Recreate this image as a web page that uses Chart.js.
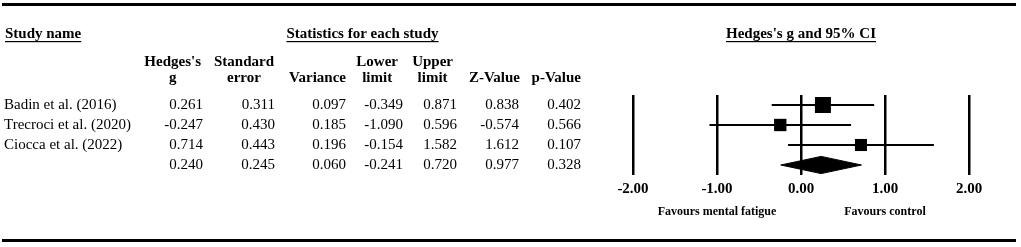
<!DOCTYPE html>
<html>
<head>
<meta charset="utf-8">
<script src="https://cdn.jsdelivr.net/npm/chart.js@4"></script>
<style>
  html, body { margin: 0; padding: 0; background: #fff; }
  #wrap { position: relative; width: 1021px; height: 247px; }
</style>
</head>
<body>
<div id="wrap"><canvas id="forest" width="1021" height="247"></canvas></div>
<script>
const studies = ['Badin et al. (2016)', 'Trecroci et al. (2020)', 'Ciocca et al. (2022)', '']
const hedgesG = [0.261, -0.247, 0.714, 0.240]
const stdErr = [0.311, 0.430, 0.443, 0.245]
const variance = [0.097, 0.185, 0.196, 0.060]
const lowerLimit = [-0.349, -1.090, -0.154, -0.241]
const upperLimit = [0.871, 0.596, 1.582, 0.720]
const zValue = [0.838, -0.574, 1.612, 0.977]
const pValue = [0.402, 0.566, 0.107, 0.328]
const xTicks = [-2, -1, 0, 1, 2]
const favourLabels = [[-1, 'Favours mental fatigue'], [1, 'Favours control']]

const FONT = "'Liberation Serif', 'Times New Roman', serif"
const summaryRow = 3
const studyRows = [0, 1, 2]

// square side grows with study weight (1 / variance)
const maxW = Math.max(...studyRows.map(i => 1 / variance[i]))
const sides = studyRows.map(i => 16 * Math.pow((1 / variance[i]) / maxW, 0.4))

const datasets = []
datasets.push({
    label: 'g',
    data: studyRows.map(i => ({x: hedgesG[i], y: i})),
    pointStyle: 'rect',
    pointRadius: c => sides[c.dataIndex] / Math.SQRT2,
    backgroundColor: '#000',
    borderWidth: 0,
    order: 0
})
studyRows.forEach(i => {
    datasets.push({
        label: 'ci' + i,
        data: [{x: lowerLimit[i], y: i}, {x: upperLimit[i], y: i}],
        showLine: true,
        borderColor: '#000',
        borderWidth: 2,
        pointRadius: 0,
        order: 1
    })
})
const dh = 0.43
datasets.push({
    label: 'summary',
    data: [
        {x: lowerLimit[summaryRow], y: summaryRow},
        {x: hedgesG[summaryRow], y: summaryRow - dh},
        {x: upperLimit[summaryRow], y: summaryRow},
        {x: hedgesG[summaryRow], y: summaryRow + dh},
        {x: lowerLimit[summaryRow], y: summaryRow}
    ],
    showLine: true,
    fill: 'shape',
    backgroundColor: '#000',
    borderColor: '#000',
    borderWidth: 1,
    pointRadius: 0,
    order: 1
})

const valueCols = [
    {vals: hedgesG, right: 203, head: ["Hedges's", 'g'], hr: 201},
    {vals: stdErr, right: 275, head: ['Standard', 'error'], hr: 274},
    {vals: variance, right: 346, head: ['', 'Variance'], hr: 346},
    {vals: lowerLimit, right: 403, head: ['Lower', 'limit'], hr: 398},
    {vals: upperLimit, right: 457, head: ['Upper', 'limit'], hr: 453},
    {vals: zValue, right: 519, head: ['', 'Z-Value'], hr: 520},
    {vals: pValue, right: 581, head: ['', 'p-Value'], hr: 581}
]

function underlined(ctx, text, x, y, align) {
    ctx.textAlign = align
    ctx.fillText(text, x, y)
    const w = ctx.measureText(text).width
    const x0 = align === 'center' ? x - w / 2 : x
    ctx.fillRect(x0, y + 7, w, 1.2)
}

const tablePlugin = {
    id: 'table',
    afterDraw(chart) {
        const ctx = chart.ctx
        const ys = chart.scales.y
        const xs = chart.scales.x
        ctx.save()
        ctx.fillStyle = '#000'
        // rules
        ctx.fillRect(2, 3, 1014, 3)
        ctx.fillRect(2, 239, 1014, 3)
        ctx.textBaseline = 'middle'
        ctx.font = 'bold 15px ' + FONT
        underlined(ctx, 'Study name', 5, 34, 'left')
        underlined(ctx, 'Statistics for each study', 362.5, 34, 'center')
        underlined(ctx, "Hedges's g and 95% CI", xs.getPixelForValue(0), 34, 'center')
        valueCols.forEach(col => {
            const w = Math.max(...col.head.map(t => ctx.measureText(t).width))
            const cx = col.hr - w / 2
            ctx.textAlign = 'center'
            col.head.forEach((t, k) => { if (t) ctx.fillText(t, cx, 62 + k * 16.5) })
        })
        ctx.font = '15px ' + FONT
        studies.forEach((name, i) => {
            const y = ys.getPixelForValue(i)
            ctx.textAlign = 'left'
            ctx.fillText(name, 4, y)
            ctx.textAlign = 'right'
            valueCols.forEach(col => ctx.fillText(col.vals[i].toFixed(3), col.right, y))
        })
        ctx.font = 'bold 12px ' + FONT
        ctx.textAlign = 'center'
        favourLabels.forEach(([v, t]) => ctx.fillText(t, xs.getPixelForValue(v), 212))
        ctx.restore()
    }
}

new Chart(document.getElementById('forest'), {
    type: 'scatter',
    data: {datasets: datasets},
    options: {
        responsive: false,
        animation: false,
        devicePixelRatio: 1,
        layout: {padding: {left: 633, right: 52, top: 95, bottom: 44}},
        plugins: {legend: {display: false}, tooltip: {enabled: false}},
        scales: {
            x: {
                type: 'linear',
                min: -2,
                max: 2,
                afterBuildTicks: s => { s.ticks = xTicks.map(v => ({value: v})) },
                ticks: {
                    color: '#000',
                    padding: 5,
                    autoSkip: false,
                    maxRotation: 0,
                    font: {family: FONT, size: 15, weight: 'bold'},
                    callback: v => v.toFixed(2)
                },
                grid: {color: '#000', lineWidth: 2.5, drawTicks: false},
                border: {display: false}
            },
            y: {
                type: 'linear',
                min: -0.5,
                max: 3.5,
                reverse: true,
                display: false
            }
        }
    },
    plugins: [tablePlugin]
})
</script>
</body>
</html>
